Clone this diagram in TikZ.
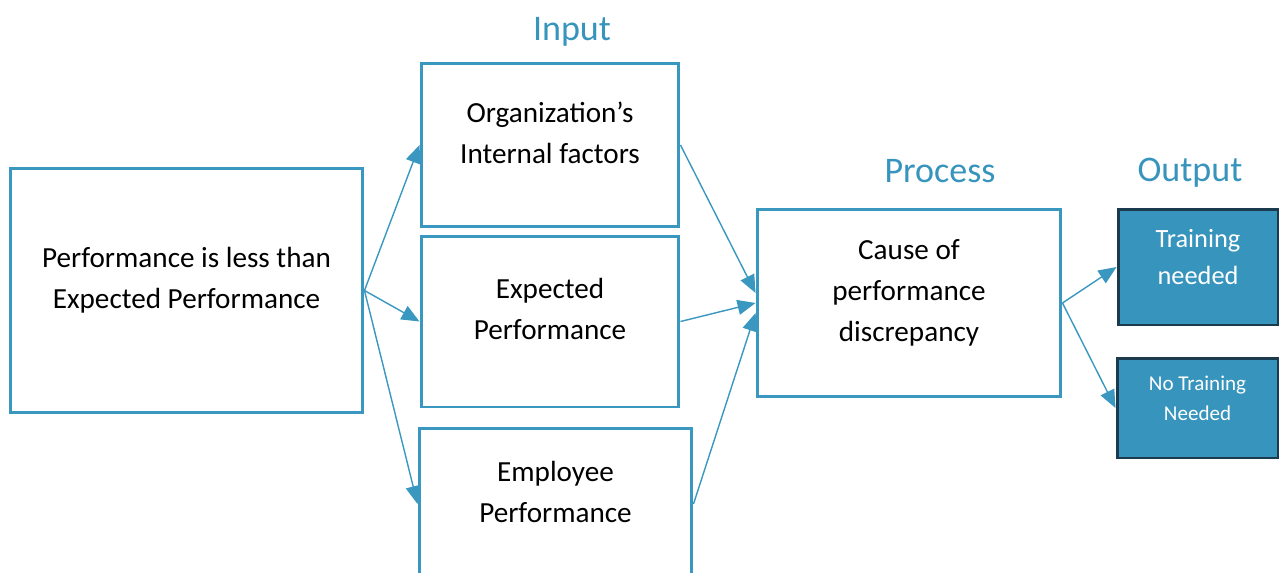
\documentclass[tikz,border=0pt]{standalone}
\usepackage{fontspec}
\setmainfont{Carlito}
\usetikzlibrary{arrows.meta}
\definecolor{boxblue}{RGB}{58,152,192}
\definecolor{fillblue}{RGB}{55,148,188}
\definecolor{darkline}{RGB}{28,58,77}
\tikzset{
  inbox/.style={draw=boxblue, line width=1.7pt, align=center, inner sep=0pt,
    text depth=0.5cm, font=\fontsize{16.6}{23.2}\selectfont},
  outbox/.style={draw=darkline, fill=fillblue, line width=1.7pt, align=center,
    inner sep=0pt, text depth=0.4cm, text=white},
  heading/.style={text=fillblue, font=\fontsize{20.5}{24}\selectfont},
  link/.style={draw=boxblue, line width=0.8pt, -{Triangle[length=0.36cm,width=0.3cm]}}
}
\begin{document}
\begin{tikzpicture}[x=0.02cm,y=-0.02cm]
  \useasboundingbox (0,0) rectangle (1280,572);
  \draw
    (186.5,290.5) node[inbox, minimum width=7.06cm, minimum height=4.9cm] (gap)
      {Performance is less than\\Expected Performance}
    (550,145) node[inbox, minimum width=5.16cm, minimum height=3.28cm] (org)
      {Organization’s\\Internal factors}
    (550,321.5) node[inbox, minimum width=5.16cm, minimum height=3.42cm] (exp)
      {Expected\\Performance}
    (555.5,504) node[inbox, minimum width=5.46cm, minimum height=3.04cm] (emp)
      {Employee\\Performance}
    (909,303) node[inbox, minimum width=6.08cm, minimum height=3.76cm] (cause)
      {Cause of\\performance\\discrepancy}
    (1198,267) node[outbox, minimum width=3.2cm, minimum height=2.32cm,
      font=\fontsize{15}{21.5}\selectfont] (yes) {Training\\needed}
    (1197.5,408) node[outbox, minimum width=3.22cm, minimum height=2.0cm,
      font=\fontsize{12}{17}\selectfont] (no) {No Training\\Needed};
  \node[heading] (input) at (572,32) {Input};
  \node[heading] (process) at (940,171) {Process};
  \node[heading] (output) at (1190,173) {Output};
  \begin{scope}[link]
    \draw (gap.east) to (org.west);
    \draw (gap.east) to (exp.west);
    \draw (gap.east) to (emp.west);
    \draw (org.east) to ([yshift=0.2cm]cause.west);
    \draw (exp.east) to (cause.west);
    \draw (emp.east) to ([yshift=-0.2cm]cause.west);
    \draw (cause.east) to (yes.west);
    \draw (cause.east) to (no.west);
  \end{scope}
\end{tikzpicture}
\end{document}
